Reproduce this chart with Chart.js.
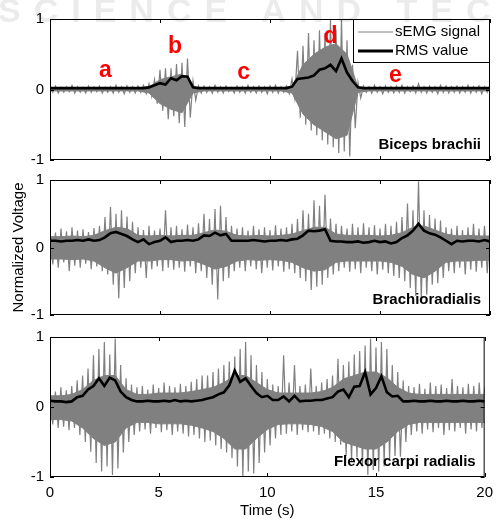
<!DOCTYPE html>
<html>
<head>
<meta charset="utf-8">
<script src="https://cdn.jsdelivr.net/npm/chart.js@4.4.1/dist/chart.umd.min.js"></script>
<style>
  body { margin: 0; background: #fff; }
  #wrap { position: relative; width: 500px; height: 521px; overflow: hidden; }
  canvas { position: absolute; left: 0; }
  #wm { position: absolute; left: -2px; top: -9px; font: bold 34px "Liberation Sans", Arial, sans-serif;
        letter-spacing: 13px; color: rgba(0,0,0,0.08); white-space: nowrap; pointer-events: none; z-index: 5; }
</style>
</head>
<body>
<div id="wrap">
  <canvas id="c1" width="500" height="175" style="top:0px"></canvas>
  <canvas id="c2" width="500" height="165" style="top:165px"></canvas>
  <canvas id="c3" width="500" height="201" style="top:320px"></canvas>
  <div id="wm">SCIENCE AND TECHNOLOGY</div>
</div>
<script>
// spike peaks: every 0.25 s, 0..20 s (81 values each)
const step = 0.25
// dense core of the signal: every 0.5 s (41 values each)
const coreStep = 0.5

// Biceps brachii
const bicepsHi = [0.04,0.05,0.03,0.04,0.06,0.04,0.03,0.05,0.04,0.05,0.03,0.04,0.06,0.04,0.05,0.04,0.05,0.06,
  0.08,0.14,0.28,0.3,0.3,0.36,0.38,0.44,0.12,0.05,
  0.05,0.04,0.06,0.04,0.05,0.03,0.05,0.04,0.06,0.04,0.05,0.04,0.05,0.06,0.04,0.05,
  0.15,0.55,0.62,0.8,0.7,0.84,0.8,0.99,0.85,1.0,0.7,0.35,0.1,
  0.05,0.04,0.06,0.04,0.05,0.04,0.05,0.06,0.04,0.05,0.08,0.04,0.05,0.04,0.06,0.05,0.04,0.05,0.04,0.06,0.04,0.05,0.04,0.05]
const bicepsLo = [-0.04,-0.05,-0.04,-0.03,-0.05,-0.04,-0.05,-0.04,-0.03,-0.05,-0.04,-0.05,-0.04,-0.06,-0.04,-0.05,-0.04,-0.06,
  -0.1,-0.2,-0.3,-0.42,-0.38,-0.48,-0.53,-0.4,-0.15,-0.05,
  -0.04,-0.05,-0.04,-0.05,-0.03,-0.05,-0.04,-0.05,-0.04,-0.05,-0.04,-0.06,-0.04,-0.05,-0.04,-0.06,
  -0.12,-0.4,-0.5,-0.58,-0.65,-0.72,-0.78,-0.82,-0.9,-0.88,-0.95,-0.55,-0.12,
  -0.04,-0.05,-0.04,-0.06,-0.04,-0.05,-0.04,-0.05,-0.03,-0.05,-0.04,-0.05,-0.04,-0.06,-0.04,-0.05,-0.04,-0.05,-0.04,-0.05,-0.04,-0.06,-0.04,-0.05]
const bicepsCoreHi = [0.02,0.02,0.02,0.02,0.02,0.02,0.02,0.02,0.02,
  0.04,0.14,0.18,0.22,0.04,
  0.02,0.02,0.02,0.02,0.02,0.02,0.02,0.02,
  0.05,0.35,0.5,0.6,0.65,0.5,0.03,
  0.02,0.02,0.02,0.02,0.02,0.02,0.02,0.02,0.02,0.02,0.02,0.02]
const bicepsCoreLo = [-0.02,-0.02,-0.02,-0.02,-0.02,-0.02,-0.02,-0.02,-0.02,
  -0.05,-0.2,-0.28,-0.33,-0.05,
  -0.02,-0.02,-0.02,-0.02,-0.02,-0.02,-0.02,-0.02,
  -0.05,-0.35,-0.5,-0.6,-0.7,-0.65,-0.04,
  -0.02,-0.02,-0.02,-0.02,-0.02,-0.02,-0.02,-0.02,-0.02,-0.02,-0.02,-0.02]
const bicepsRms = [0.02,0.02,0.02,0.02,0.02,0.02,0.02,0.02,0.02,0.02,0.02,0.02,0.02,0.02,0.02,0.02,0.02,0.02,
  0.03,0.06,0.09,0.07,0.16,0.13,0.19,0.18,0.03,0.02,
  0.02,0.02,0.02,0.02,0.02,0.02,0.02,0.02,0.02,0.02,0.02,0.02,0.02,0.02,0.02,0.02,
  0.04,0.15,0.16,0.17,0.2,0.28,0.3,0.35,0.26,0.44,0.24,0.12,0.03,
  0.02,0.02,0.02,0.02,0.02,0.02,0.02,0.02,0.02,0.02,0.02,0.02,0.02,0.02,0.02,0.02,0.02,0.02,0.02,0.02,0.02,0.02,0.02,0.02]

// Brachioradialis
const brachHi = [0.26,0.22,0.28,0.24,0.3,0.25,0.27,0.23,0.29,0.32,
  0.45,0.6,0.5,0.55,0.46,0.38,
  0.3,0.26,0.32,0.25,0.28,
  0.55,0.3,
  0.32,0.27,0.34,0.3,0.36,
  0.5,0.42,0.57,0.62,0.45,0.32,
  0.28,0.3,0.25,0.32,0.27,0.3,0.26,0.33,0.28,0.3,0.35,
  0.42,0.55,0.5,0.7,0.62,0.78,0.43,0.35,
  0.32,0.28,0.35,0.3,0.36,0.3,0.33,0.28,0.35,0.32,0.38,
  0.45,0.65,0.55,0.98,0.55,0.48,0.43,0.4,
  0.3,0.28,0.32,0.26,0.3,0.35,0.28,0.32,0.3]
const brachLo = [-0.25,-0.3,-0.22,-0.35,-0.27,-0.3,-0.24,-0.32,-0.28,-0.35,
  -0.4,-0.55,-0.75,-0.6,-0.5,-0.38,
  -0.3,-0.45,-0.32,-0.28,-0.35,
  -0.3,-0.33,
  -0.3,-0.36,-0.28,-0.38,-0.35,
  -0.45,-0.55,-0.77,-0.5,-0.45,-0.35,
  -0.3,-0.35,-0.28,-0.32,-0.38,-0.3,-0.34,-0.28,-0.36,-0.32,-0.38,
  -0.45,-0.5,-0.63,-0.58,-0.55,-0.45,-0.4,-0.35,
  -0.3,-0.36,-0.32,-0.38,-0.3,-0.35,-0.4,-0.33,-0.38,-0.42,-0.45,
  -0.5,-0.6,-0.72,-0.75,-0.7,-0.55,-0.53,-0.45,
  -0.35,-0.38,-0.3,-0.4,-0.33,-0.36,-0.3,-0.38,-0.34]
const brachCoreHi = [0.16,0.16,0.17,0.16,0.18,0.25,0.3,0.28,0.18,0.17,
  0.18,0.17,0.18,0.18,0.22,0.26,0.24,0.18,0.17,0.18,
  0.17,0.18,0.2,0.25,0.3,0.3,0.2,0.18,0.18,0.18,
  0.17,0.18,0.22,0.3,0.32,0.26,0.2,0.17,0.18,0.17,0.17]
const brachCoreLo = [-0.17,-0.17,-0.18,-0.17,-0.2,-0.3,-0.38,-0.3,-0.2,-0.2,
  -0.18,-0.18,-0.2,-0.19,-0.25,-0.32,-0.28,-0.2,-0.18,-0.19,
  -0.18,-0.19,-0.22,-0.3,-0.35,-0.33,-0.22,-0.2,-0.2,-0.2,
  -0.2,-0.22,-0.28,-0.4,-0.45,-0.35,-0.22,-0.2,-0.2,-0.19,-0.19]
const brachRms = [0.1,0.1,0.09,0.1,0.1,0.11,0.1,0.12,0.1,0.11,
  0.15,0.21,0.23,0.2,0.17,0.12,
  0.08,0.12,0.05,0.08,0.1,
  0.15,0.08,
  0.1,0.1,0.11,0.1,0.12,
  0.18,0.17,0.22,0.18,0.2,0.1,
  0.1,0.1,0.1,0.11,0.1,0.09,0.1,0.1,0.11,0.1,0.12,
  0.13,0.18,0.25,0.24,0.25,0.27,0.1,0.09,
  0.09,0.08,0.08,0.09,0.07,0.08,0.1,0.08,0.09,0.06,0.08,
  0.14,0.18,0.25,0.35,0.25,0.21,0.19,0.15,
  0.1,0.05,0.1,0.09,0.1,0.1,0.09,0.11,0.09]

// Flexor carpi radialis
const flexorHi = [0.25,0.22,0.28,0.24,0.3,
  0.38,0.45,0.55,0.74,0.83,0.93,0.75,0.98,0.6,0.41,0.32,
  0.28,0.3,0.25,0.32,0.27,0.35,0.3,0.28,0.33,0.3,0.36,0.4,0.45,
  0.45,0.5,0.55,0.6,0.65,0.72,0.83,0.93,0.74,0.6,0.5,
  0.4,0.32,0.3,0.74,0.35,0.6,0.3,0.32,0.55,0.3,0.35,0.4,
  0.45,0.69,0.6,0.65,0.75,0.8,0.88,0.98,0.85,0.93,0.83,0.6,0.5,0.38,
  0.3,0.28,0.33,0.26,0.35,0.3,0.32,0.27,0.4,0.3,0.28,0.33,0.3,0.35,0.28]
const flexorLo = [-0.25,-0.3,-0.28,-0.33,-0.3,
  -0.4,-0.5,-0.64,-0.8,-0.92,-0.85,-0.97,-0.88,-0.65,-0.5,-0.4,
  -0.35,-0.32,-0.38,-0.3,-0.36,-0.33,-0.4,-0.35,-0.38,-0.42,-0.4,-0.45,-0.5,
  -0.48,-0.55,-0.6,-0.65,-0.73,-0.85,-1.0,-0.92,-0.95,-0.8,-0.65,
  -0.55,-0.45,-0.4,-0.38,-0.35,-0.4,-0.33,-0.36,-0.35,-0.4,-0.38,-0.45,
  -0.5,-0.54,-0.7,-0.78,-0.72,-0.85,-0.97,-0.9,-0.92,-0.85,-0.75,-0.7,-0.71,-0.5,
  -0.4,-0.35,-0.38,-0.32,-0.36,-0.3,-0.4,-0.33,-0.35,-0.3,-0.38,-0.32,-0.35,-0.3,-0.33]
const flexorCoreHi = [0.16,0.16,0.18,0.25,0.38,0.45,0.45,0.25,0.18,0.18,
  0.2,0.2,0.2,0.22,0.25,0.28,0.35,0.45,0.45,0.35,
  0.25,0.2,0.2,0.2,0.2,0.22,0.28,0.4,0.45,0.5,
  0.5,0.42,0.28,0.2,0.18,0.18,0.18,0.18,0.18,0.18,0.18]
const flexorCoreLo = [-0.18,-0.18,-0.2,-0.3,-0.45,-0.55,-0.5,-0.3,-0.22,-0.22,
  -0.24,-0.24,-0.24,-0.26,-0.3,-0.35,-0.45,-0.6,-0.6,-0.45,
  -0.32,-0.25,-0.24,-0.24,-0.25,-0.28,-0.35,-0.5,-0.55,-0.6,
  -0.6,-0.5,-0.35,-0.25,-0.22,-0.22,-0.22,-0.22,-0.22,-0.22,-0.22]
const flexorRms = [0.09,0.08,0.08,0.07,0.08,
  0.14,0.16,0.25,0.3,0.41,0.3,0.42,0.38,0.22,0.14,0.1,
  0.08,0.08,0.09,0.08,0.08,0.09,0.08,0.1,0.08,0.09,0.08,0.09,0.1,
  0.12,0.14,0.18,0.21,0.31,0.52,0.36,0.41,0.3,0.2,0.14,
  0.16,0.1,0.1,0.15,0.08,0.16,0.08,0.09,0.09,0.1,0.1,0.12,
  0.14,0.22,0.25,0.14,0.29,0.3,0.5,0.18,0.27,0.44,0.21,0.15,0.16,0.08,
  0.08,0.09,0.08,0.08,0.09,0.08,0.08,0.09,0.08,0.08,0.09,0.08,0.08,0.09,0.08]

const xTicks = [0, 5, 10, 15, 20]
const yTicks = [-1, 0, 1]
const letters = ['a', 'b', 'c', 'd', 'e']
const letterT = [2.52, 5.68, 8.8, 12.75, 15.7]
const letterV = [0.18, 0.52, 0.15, 0.66, 0.11]

const FONT = '"Liberation Sans", Arial, Helvetica, sans-serif'
const GRAY = '#808080'

const pts = (arr, dt) => arr.map((v, i) => ({x: i * dt, y: v}))

// raw trace: up to each positive peak, down to the next negative one
function spikes(hi, lo) {
    const out = []
    hi.forEach((v, i) => {
        out.push({x: i * step, y: v})
        out.push({x: i * step + step / 2, y: lo[i]})
    })
    return out
}

// axes box, inward ticks, panel name, legend, letters
const decor = {
    id: 'decor',
    afterDatasetsDraw(chart, args, opts) {
        const {ctx, chartArea: a, scales: {x, y}} = chart
        ctx.save()
        ctx.strokeStyle = '#000'
        ctx.lineWidth = 1
        ctx.strokeRect(a.left + 0.5, a.top + 0.5, a.right - a.left - 1, a.bottom - a.top - 1)
        ctx.beginPath()
        xTicks.forEach(t => {
            const px = Math.round(x.getPixelForValue(t)) + 0.5
            ctx.moveTo(px, a.bottom); ctx.lineTo(px, a.bottom - 4)
            ctx.moveTo(px, a.top); ctx.lineTo(px, a.top + 4)
        })
        yTicks.forEach(v => {
            const py = Math.round(y.getPixelForValue(v)) + 0.5
            ctx.moveTo(a.left, py); ctx.lineTo(a.left + 4, py)
            ctx.moveTo(a.right, py); ctx.lineTo(a.right - 4, py)
        })
        ctx.stroke()

        ctx.fillStyle = '#000'
        ctx.font = 'bold 15px ' + FONT
        ctx.textAlign = 'right'
        ctx.textBaseline = 'alphabetic'
        ctx.fillText(opts.label, a.right - 9, a.bottom - 11)

        if (opts.legend) {
            const lx = a.right - 137, ly = a.top
            ctx.fillStyle = '#fff'
            ctx.fillRect(lx, ly, 137, 44)
            ctx.strokeStyle = '#000'
            ctx.lineWidth = 1
            ctx.strokeRect(lx + 0.5, ly + 0.5, 136, 43)
            ctx.strokeStyle = GRAY
            ctx.beginPath(); ctx.moveTo(lx + 5, ly + 13); ctx.lineTo(lx + 40, ly + 13); ctx.stroke()
            ctx.strokeStyle = '#000'
            ctx.lineWidth = 3
            ctx.beginPath(); ctx.moveTo(lx + 5, ly + 32); ctx.lineTo(lx + 40, ly + 32); ctx.stroke()
            ctx.fillStyle = '#000'
            ctx.font = '15px ' + FONT
            ctx.textAlign = 'left'
            ctx.textBaseline = 'middle'
            ctx.fillText('sEMG signal', lx + 42, ly + 13)
            ctx.fillText('RMS value', lx + 42, ly + 32)
        }

        if (opts.letters) {
            ctx.fillStyle = '#ff0000'
            ctx.font = 'bold 23px ' + FONT
            ctx.textAlign = 'center'
            ctx.textBaseline = 'alphabetic'
            letters.forEach((s, i) => {
                ctx.fillText(s, x.getPixelForValue(letterT[i]), y.getPixelForValue(letterV[i]))
            })
        }
        ctx.restore()
    }
}

function makePanel(id, hi, lo, coreHi, coreLo, rms, deco, pad, bottomAxis, yTitle) {
    const ctx = document.getElementById(id)
    return new Chart(ctx, {
        type: 'line',
        data: {
            datasets: [
                {label: 'RMS value', data: pts(rms, step), borderColor: '#000', borderWidth: 2.6, pointRadius: 0, fill: false},
                {label: 'sEMG signal', data: spikes(hi, lo), borderColor: GRAY, borderWidth: 1.2, pointRadius: 0, fill: false},
                {label: 'core hi', data: pts(coreHi, coreStep), borderColor: GRAY, borderWidth: 1, pointRadius: 0, fill: false},
                {label: 'core lo', data: pts(coreLo, coreStep), borderColor: GRAY, borderWidth: 1, pointRadius: 0,
                 backgroundColor: GRAY, fill: '-1'}
            ]
        },
        plugins: [decor],
        options: {
            responsive: false,
            animation: false,
            devicePixelRatio: 1,
            layout: {padding: pad},
            plugins: {
                legend: {display: false},
                tooltip: {enabled: false},
                decor: deco
            },
            scales: {
                x: {
                    type: 'linear', min: 0, max: 20,
                    display: bottomAxis,
                    afterBuildTicks: s => { s.ticks = xTicks.map(v => ({value: v})) },
                    ticks: {font: {family: FONT, size: 15}, color: '#000', padding: 7, maxRotation: 0},
                    grid: {display: false, drawTicks: false},
                    border: {display: false},
                    title: {display: bottomAxis, text: 'Time (s)', font: {family: FONT, size: 15}, color: '#000',
                            padding: {top: 0, bottom: 1}},
                    afterFit: s => { s.height = bottomAxis ? 44 : 0 }
                },
                y: {
                    min: -1, max: 1,
                    afterBuildTicks: s => { s.ticks = yTicks.map(v => ({value: v})) },
                    ticks: {font: {family: FONT, size: 15}, color: '#000', padding: 6},
                    grid: {display: false, drawTicks: false},
                    border: {display: false},
                    title: {display: !!yTitle, text: yTitle || '', font: {family: FONT, size: 15}, color: '#000',
                            padding: {top: 10, bottom: 0}},
                    afterFit: s => { s.width = 50 }
                }
            }
        }
    })
}

makePanel('c1', bicepsHi, bicepsLo, bicepsCoreHi, bicepsCoreLo, bicepsRms,
    {label: 'Biceps brachii', legend: true, letters: true},
    {top: 19, bottom: 15, left: 0, right: 10}, false)
makePanel('c2', brachHi, brachLo, brachCoreHi, brachCoreLo, brachRms,
    {label: 'Brachioradialis'},
    {top: 13, bottom: 11, left: 0, right: 10}, false, 'Normalized Voltage')
makePanel('c3', flexorHi, flexorLo, flexorCoreHi, flexorCoreLo, flexorRms,
    {label: 'Flexor carpi radialis'},
    {top: 17, bottom: 0, left: 0, right: 10}, true)
</script>
</body>
</html>
